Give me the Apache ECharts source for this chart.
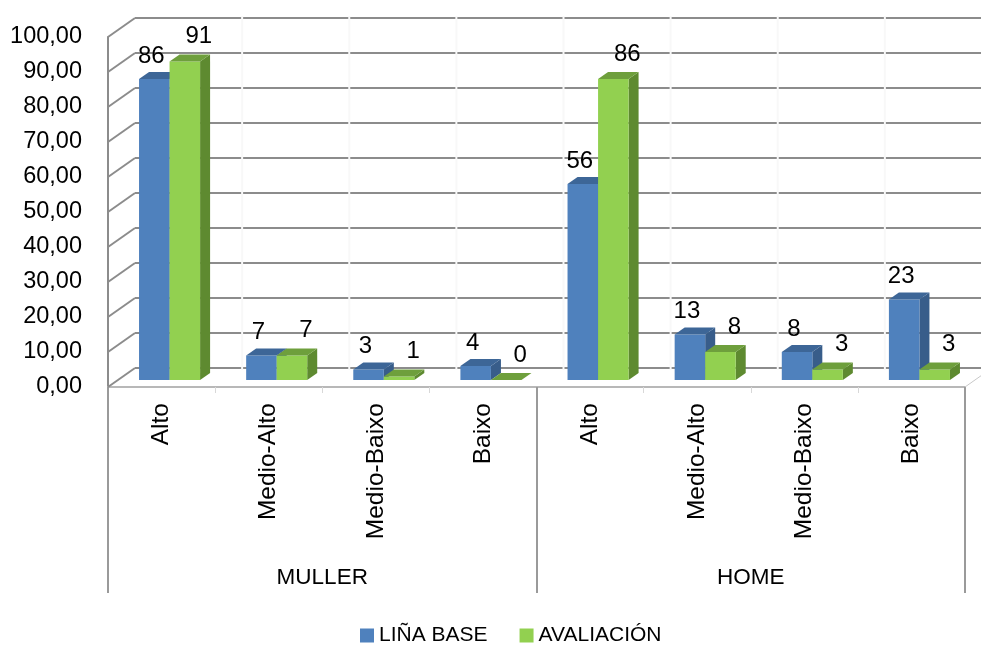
<!DOCTYPE html>
<html>
<head>
<meta charset="utf-8">
<script src="https://cdn.jsdelivr.net/npm/echarts@6/dist/echarts.min.js"></script>
<style>html,body{margin:0;padding:0;background:#fff;}#c{width:981px;height:646px;}</style>
</head>
<body>
<div id="c"></div>
<script>
const categories = ['Alto','Medio-Alto','Medio-Baixo','Baixo','Alto','Medio-Alto','Medio-Baixo','Baixo'];
const groups = ['MULLER','HOME'];
const seriesNames = ['LIÑA BASE','AVALIACIÓN'];
const lineaBase = [86,7,3,4,56,13,8,23];
const avaliacion = [91,7,1,0,86,8,3,3];
const yTicks = [0,10,20,30,40,50,60,70,80,90,100];

const FONT = 'Liberation Sans, Arial, sans-serif';
const DEPTH = [27,-19];      // wall depth offset
const BAR_SHIFT = [8,-7];    // bar placement inside depth
const BAR_DEPTH = [10,-7];   // bar extrusion
const palette = [
  {front:'#4F81BD', top:'#3D6697', side:'#385D8A', labelDx:-3, labelDy:-23},
  {front:'#92D050', top:'#6E9F3C', side:'#5E8A30', labelDx:14, labelDy:-25}
];

function wallRender(params, api){
  const t = api.value(0);
  const cs = params.coordSys;
  const pf = api.coord([0, t]);
  const yf = pf[1];
  const x0 = cs.x, x1 = cs.x + cs.width;
  const children = [
    {type:'line', shape:{x1:x0, y1:yf, x2:x0+DEPTH[0], y2:yf+DEPTH[1]}, style:{stroke:'#8c8c8c', lineWidth:2}},
    {type:'line', shape:{x1:x0+DEPTH[0], y1:yf+DEPTH[1], x2:x1+DEPTH[0]+20, y2:yf+DEPTH[1]}, style:{stroke:'#8c8c8c', lineWidth:2}}
  ];
  if (t === 0) {
    children.push({type:'line', shape:{x1:x1, y1:yf, x2:x1+DEPTH[0], y2:yf+DEPTH[1]}, style:{stroke:'#c8c8c8', lineWidth:1}});
    const top = api.coord([0, 100])[1] + DEPTH[1];
    const bw = api.size([1,0])[0];
    for (let i = 1; i < categories.length; i++) {
      const xb = x0 + i*bw + DEPTH[0];
      children.push({type:'line', shape:{x1:xb, y1:top-2, x2:xb, y2:yf+DEPTH[1]+2}, style:{stroke:'#f8f8f8', lineWidth:2}, z2:5});
    }
  }
  return {type:'group', children};
}

function barRender(si){
  const pal = palette[si];
  return function(params, api){
    const ci = api.value(0), v = api.value(1);
    const p0 = api.coord([ci, 0]);
    const p1 = api.coord([ci, v]);
    const bw = api.size([1,0])[0];
    const w = bw * 0.285;
    const left = p0[0] + BAR_SHIFT[0] + (si === 0 ? -w : 0);
    const right = left + w;
    const yb = p0[1] + BAR_SHIFT[1];
    const yt = p1[1] + BAR_SHIFT[1];
    const dx = BAR_DEPTH[0], dy = BAR_DEPTH[1];
    return {type:'group', children:[
      {type:'polygon', shape:{points:[[right,yb],[right+dx,yb+dy],[right+dx,yt+dy],[right,yt]]}, style:{fill:pal.side}},
      {type:'polygon', shape:{points:[[left,yb],[right,yb],[right,yt],[left,yt]]}, style:{fill:pal.front}},
      {type:'polygon', shape:{points:[[left,yt],[right,yt],[right+dx,yt+dy],[left+dx,yt+dy]]}, style:{fill:pal.top}},
      {type:'text', style:{text:String(v), x:(left+right)/2+pal.labelDx, y:yt+pal.labelDy, align:'center', verticalAlign:'middle', font:'24px '+FONT, fill:'#000'}}
    ]};
  };
}

const chart = echarts.init(document.getElementById('c'), null, {renderer:'canvas'});
chart.setOption({
  backgroundColor:'#ffffff',
  animation:false,
  textStyle:{fontFamily:FONT},
  grid:{left:108, right:16, top:37, bottom:259, containLabel:false},
  legend:{
    data:seriesNames, left:355, top:621, padding:[4,5,4,5], icon:'rect', itemWidth:14, itemHeight:14, itemGap:32,
    textStyle:{fontSize:21, color:'#000', fontFamily:FONT}
  },
  xAxis:[
    {type:'category', data:categories, position:'bottom', boundaryGap:true,
     axisLine:{show:true, lineStyle:{color:'#b8b8b8', width:2}},
     axisTick:{show:true, interval:0, length:6, lineStyle:{color:'#d8d8d8'}},
     axisLabel:{interval:0, rotate:90, margin:16, fontSize:24.5, color:'#000', fontFamily:FONT},
     splitLine:{show:false}},
    {type:'category', data:groups, position:'bottom', offset:0, boundaryGap:true,
     axisLine:{show:false},
     axisTick:{show:true, interval:0, length:206, lineStyle:{color:'#9a9a9a', width:2}},
     axisLabel:{interval:0, margin:179, fontSize:22.5, color:'#000', fontFamily:FONT},
     splitLine:{show:false}}
  ],
  yAxis:{type:'value', min:0, max:100, interval:10,
    axisLine:{show:true, lineStyle:{color:'#8c8c8c', width:2}},
    axisTick:{show:false}, splitLine:{show:false},
    axisLabel:{margin:26, fontSize:23.5, color:'#000', fontFamily:FONT,
      formatter:function(v){return v.toFixed(2).replace('.',',');}}
  },
  series:[
    {type:'custom', name:'walls', renderItem:wallRender, data:yTicks.map(t=>[t]), encode:{y:0}, silent:true, z:1, clip:false},
    {type:'custom', name:seriesNames[0], itemStyle:{color:palette[0].front}, renderItem:barRender(0),
     data:lineaBase.map((v,i)=>[i,v]), encode:{x:0,y:1}, z:3, clip:false},
    {type:'custom', name:seriesNames[1], itemStyle:{color:palette[1].front}, renderItem:barRender(1),
     data:avaliacion.map((v,i)=>[i,v]), encode:{x:0,y:1}, z:4, clip:false}
  ]
});
</script>
</body>
</html>
